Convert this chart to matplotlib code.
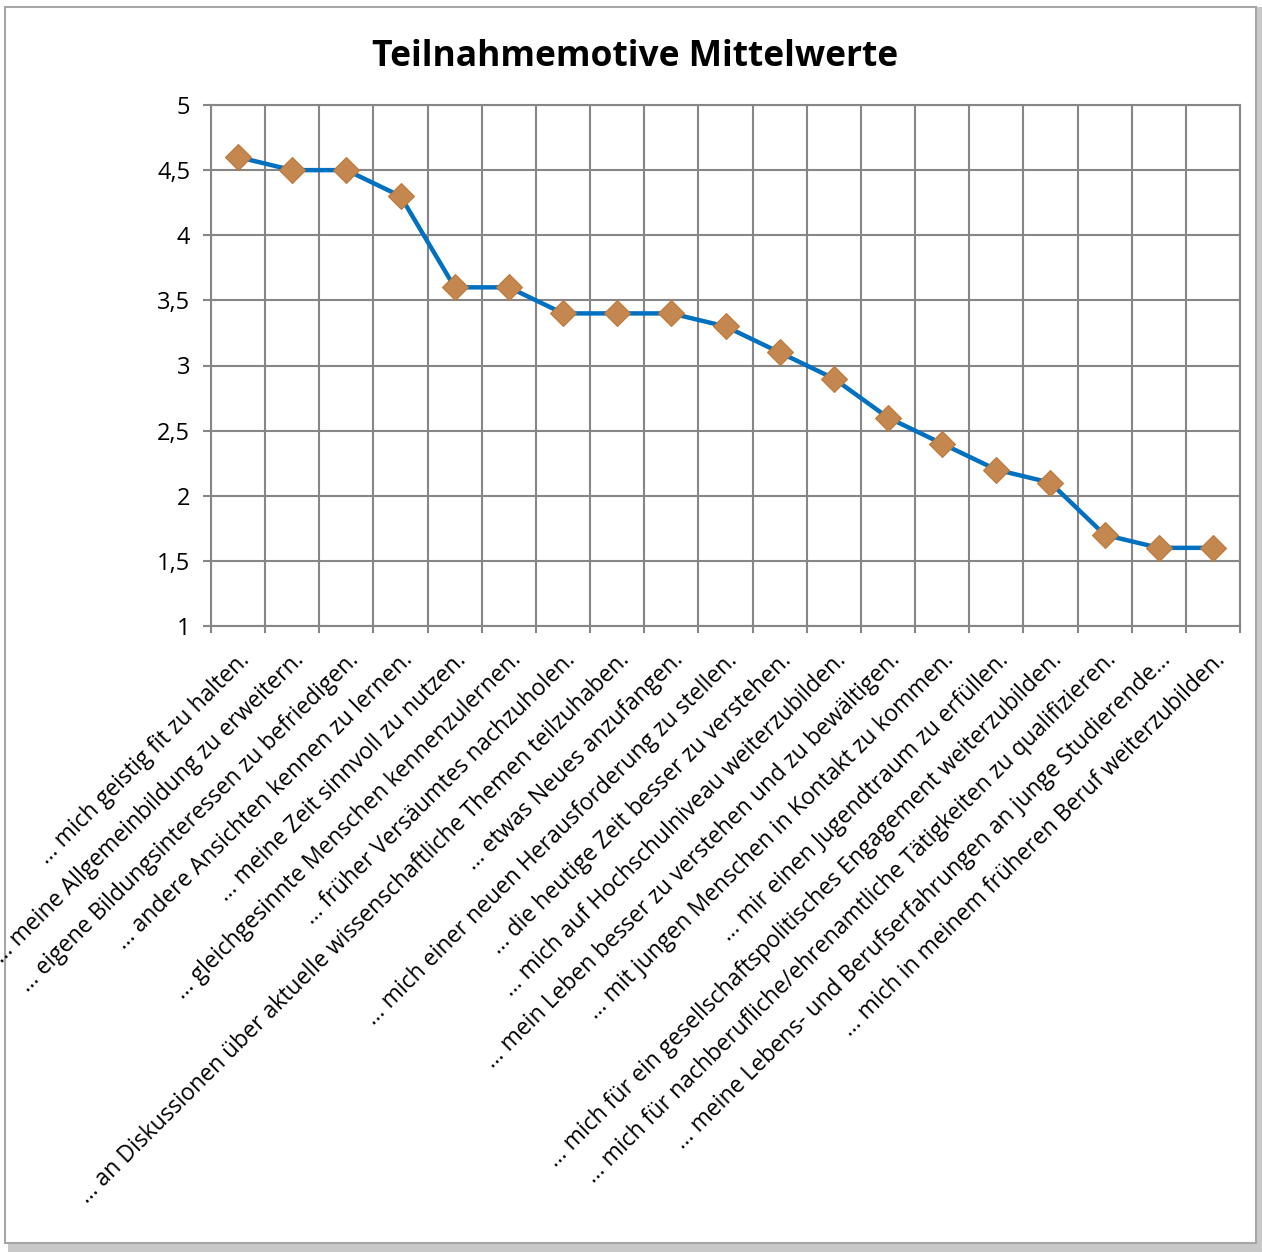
import matplotlib.pyplot as plt
from matplotlib.patches import Rectangle
import numpy as np

labels = [
    "… mich geistig fit zu halten.",
    "… meine Allgemeinbildung zu erweitern.",
    "… eigene Bildungsinteressen zu befriedigen.",
    "… andere Ansichten kennen zu lernen.",
    "… meine Zeit sinnvoll zu nutzen.",
    "… gleichgesinnte Menschen kennenzulernen.",
    "… früher Versäumtes nachzuholen.",
    "… an Diskussionen über aktuelle wissenschaftliche Themen teilzuhaben.",
    "… etwas Neues anzufangen.",
    "… mich einer neuen Herausforderung zu stellen.",
    "… die heutige Zeit besser zu verstehen.",
    "… mich auf Hochschulniveau weiterzubilden.",
    "… mein Leben besser zu verstehen und zu bewältigen.",
    "… mit jungen Menschen in Kontakt zu kommen.",
    "… mir einen Jugendtraum zu erfüllen.",
    "… mich für ein gesellschaftspolitisches Engagement weiterzubilden.",
    "… mich für nachberufliche/ehrenamtliche Tätigkeiten zu qualifizieren.",
    "… meine Lebens- und Berufserfahrungen an junge Studierende…",
    "… mich in meinem früheren Beruf weiterzubilden.",
]
mittelwerte = [4.6, 4.5, 4.5, 4.3, 3.6, 3.6, 3.4, 3.4, 3.4, 3.3,
               3.1, 2.9, 2.6, 2.4, 2.2, 2.1, 1.7, 1.6, 1.6]
y_ticks = [1, 1.5, 2, 2.5, 3, 3.5, 4, 4.5, 5]

plt.rcParams['font.family'] = ['Open Sans', 'DejaVu Sans']
grid_col = '#868686'

fig = plt.figure(figsize=(12.62, 12.52), dpi=100)

# frame with shadow
fig.patches.append(Rectangle((8/1262, 0), 1254/1262, 1245/1252, transform=fig.transFigure,
                             facecolor='#c8c8c8', edgecolor='none', zorder=-3))
fig.patches.append(Rectangle((5/1262, 9/1252), 1251/1262, 1236/1252, transform=fig.transFigure,
                             facecolor='white', edgecolor='#a6a6a6', linewidth=1.5, zorder=-2))

ax = fig.add_axes([211/1262, 0.5, 1029/1262, 521/1252])
ax.patch.set_alpha(0)
x = np.arange(len(mittelwerte))
ax.plot(x, mittelwerte, color='#0070C0', linewidth=3.2, zorder=3,
        marker='D', markersize=13, markerfacecolor='#C4874F', markeredgecolor='#C07838',
        markeredgewidth=0.8)

ax.set_xlim(-0.5, len(mittelwerte) - 0.5)
ax.set_ylim(1, 5)
ax.set_yticks(y_ticks)
ax.set_yticklabels([str(v).replace('.', ',').replace(',0', '') for v in y_ticks], fontsize=17)
ax.set_xticks(x)
ax.set_xticklabels(labels, rotation=45, ha='right', rotation_mode='anchor', fontsize=16.5)
ax.tick_params(axis='x', length=0, pad=16)
ax.tick_params(axis='y', length=6, width=1.5, color=grid_col, pad=9)

bounds = np.arange(len(mittelwerte) + 1) - 0.5
for b in bounds:
    ax.axvline(b, color=grid_col, linewidth=1.5, zorder=1)
    ax.plot([b, b], [0, -0.012], transform=ax.get_xaxis_transform(), color=grid_col,
            linewidth=1.5, clip_on=False)
ax.yaxis.grid(True, color=grid_col, linewidth=1.5, zorder=1)
ax.set_axisbelow(True)
for s in ax.spines.values():
    s.set_color(grid_col)
    s.set_linewidth(1.5)

fig.text(635/1262, 1 - 57/1252, 'Teilnahmemotive Mittelwerte', ha='center', va='center',
         fontsize=25.5, fontweight='bold')

fig.savefig('out.png', dpi=100)
